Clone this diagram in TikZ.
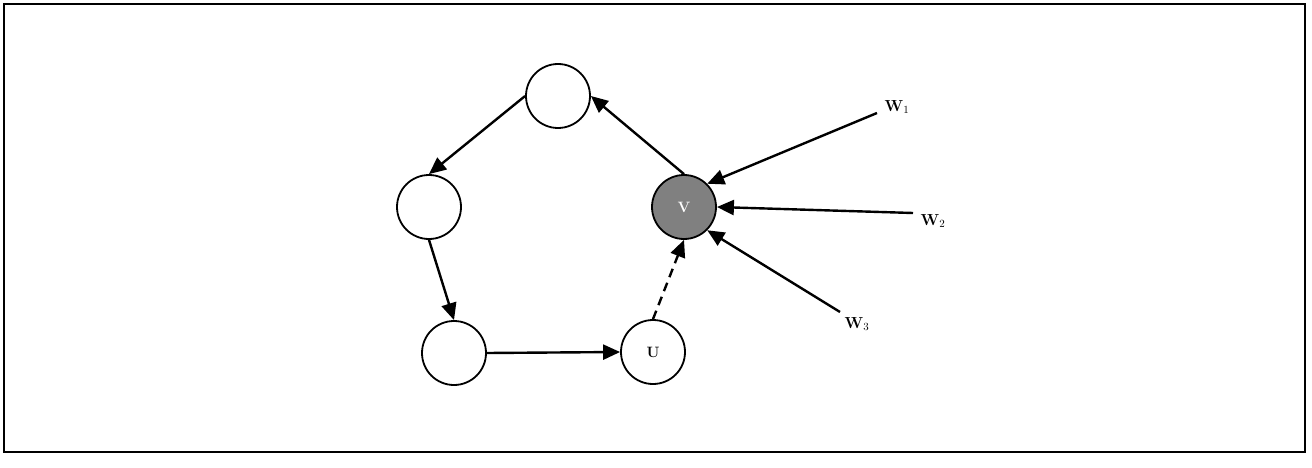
\documentclass[tikz,border=0pt]{standalone}
\usepackage{fontspec}
\usetikzlibrary{arrows.meta}
\begin{document}
\begin{tikzpicture}[x=1pt,y=-1pt,
  vert/.style={circle,draw=black,line width=1.8pt,minimum size=64pt,inner sep=0pt,font=\fontsize{15}{17}\selectfont\bfseries},
  edge/.style={line width=2.4pt,-{Triangle[length=17pt,width=15pt]}},
  lab/.style={font=\fontsize{16}{18}\selectfont\bfseries,inner sep=0pt}]
\useasboundingbox (0,0) rectangle (1312,468);
\draw[line width=1.8pt] (4,4) rectangle (1305,452);
\node[vert] (top) at (558,96) {};
\node[vert] (left) at (429,207) {};
\node[vert] (bl) at (454,353) {};
\node[vert] (u) at (653,352) {U};
\node[vert,fill=black!50,text=white] (v) at (684,207) {V};
\coordinate (w1) at (877,113);
\coordinate (w2) at (913,213);
\coordinate (w3) at (840,312);
\node[lab] (l1) at (897,107) {W$_1$};
\node[lab] (l2) at (933,221) {W$_2$};
\node[lab] (l3) at (857,324) {W$_3$};
\draw[edge] (top.west) -- (left.north);
\draw[edge] (left.south) -- (bl.north);
\draw[edge] (bl.east) -- (u.west);
\draw[edge,dashed,dash pattern=on 9pt off 6pt] (u.north) -- (v.south);
\draw[edge] (v.north) -- (top.east);
\draw[edge] (w1) -- (v.45);
\draw[edge] (w2) -- (v.east);
\draw[edge] (w3) -- (v.-45);
\end{tikzpicture}
\end{document}
